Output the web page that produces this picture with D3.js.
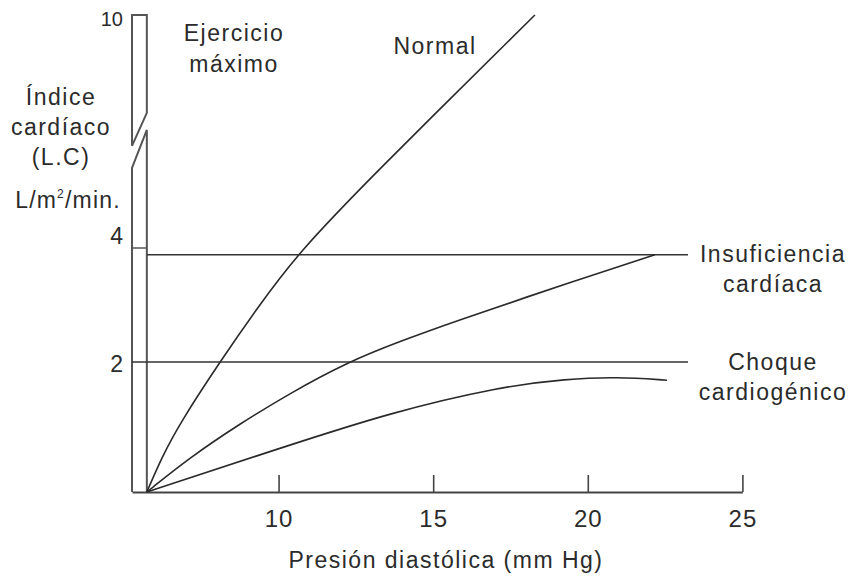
<!DOCTYPE html>
<html>
<head>
<meta charset="utf-8">
<script src="https://cdn.jsdelivr.net/npm/d3@7"></script>
<style>
  body { margin: 0; background: #fff; }
  svg text { font-family: "Liberation Sans", Arial, sans-serif; fill: #2b2b2b; }
</style>
</head>
<body>
<svg id="chart" width="850" height="577"></svg>
<script>
// datos (presion diastolica mm Hg, indice cardiaco L/m2/min)
var xTicks = [10, 15, 20, 25];
var yTicks = [2, 4, 10];

var normalX = [5.74, 6.23, 6.81, 8.10, 9.33, 10.60, 12.89, 18.29];
var normalY = [0, 0.54, 1.06, 2, 2.96, 3.89, 5.75, 10];

var insufX = [5.74, 7.13, 8.75, 10.37, 12.24, 13.92, 15.54, 19.65, 22.17];
var insufY = [0, 0.53, 1.05, 1.52, 2, 2.36, 2.68, 3.44, 3.88];

var choqueX = [5.74, 10.15, 13.60, 17.16, 19.33, 20.95, 22.56];
var choqueY = [0, 0.69, 1.22, 1.62, 1.74, 1.77, 1.72];

// lineas horizontales de referencia
var refNiveles = [3.88, 2];
var refInicio = [5.74, 5.26];
var refFin = 23.24;

var svg = d3.select("#chart");

var xScale = d3.scaleLinear().domain([5.26, 25]).range([132, 742.4]);
// eje con corte: tramo 4-10 comprimido
var yScale = d3.scaleLinear().domain([0, 2, 4, 10]).range([492, 362, 248, 15]);

var x0 = xScale.domain()[0];
var xOrigen = 5.74;
var fuente = "'Liberation Sans', Arial, sans-serif";

// eje x
var ejeX = svg.append("g")
  .attr("transform", "translate(0," + yScale(0) + ")")
  .call(d3.axisBottom(xScale)
    .tickValues(xTicks)
    .tickSizeInner(-17)
    .tickSizeOuter(0)
    .tickPadding(18));
ejeX.select(".domain").attr("stroke", "#444").attr("stroke-width", 2);
ejeX.selectAll(".tick line").attr("stroke", "#444").attr("stroke-width", 1.6);
ejeX.selectAll(".tick text")
  .attr("font-size", 24)
  .attr("fill", "#2b2b2b")
  .attr("letter-spacing", 1)
  .style("font-family", fuente);

// eje y doble con corte
var xa = xScale(x0), xb = xScale(xOrigen);
svg.append("path")
  .attr("d", "M" + xa + "," + yScale(6.63) + "V" + yScale(10) + "H" + xb + "V" + yScale(7.48) + "Z")
  .attr("fill", "none").attr("stroke", "#555").attr("stroke-width", 2);
svg.append("path")
  .attr("d", "M" + xb + "," + yScale(0) + "V" + yScale(7.04) + "L" + xa + "," + yScale(6.06) + "V" + yScale(0))
  .attr("fill", "none").attr("stroke", "#555").attr("stroke-width", 2);
svg.append("line")
  .attr("x1", xa).attr("x2", xb)
  .attr("y1", yScale(4)).attr("y2", yScale(4))
  .attr("stroke", "#555").attr("stroke-width", 1.5);

svg.selectAll(".ytick")
  .data(yTicks)
  .enter()
  .append("text")
  .attr("class", "ytick")
  .attr("x", 123)
  .attr("y", function(d) {
    if (d == 10) return yScale(d) + 11;
    if (d == 4) return yScale(d) - 4;
    return yScale(d) + 10;
  })
  .attr("text-anchor", "end")
  .attr("font-size", function(d) { return d == 10 ? 20 : 23; })
  .style("font-family", fuente)
  .text(function(d) { return d; });

// lineas de referencia
svg.selectAll(".ref")
  .data(refNiveles)
  .enter()
  .append("line")
  .attr("class", "ref")
  .attr("x1", function(d, i) { return xScale(refInicio[i]); })
  .attr("x2", xScale(refFin))
  .attr("y1", function(d) { return yScale(d); })
  .attr("y2", function(d) { return yScale(d); })
  .attr("stroke", "#333")
  .attr("stroke-width", 1.5);

// curvas
var linea = d3.line()
  .x(function(d) { return xScale(d[0]); })
  .y(function(d) { return yScale(d[1]); })
  .curve(d3.curveBasis);

var series = [[normalX, normalY], [insufX, insufY], [choqueX, choqueY]];
svg.selectAll(".curva")
  .data(series)
  .enter()
  .append("path")
  .attr("class", "curva")
  .attr("d", function(s) { return linea(d3.zip(s[0], s[1])); })
  .attr("fill", "none")
  .attr("stroke", "#2a2a2a")
  .attr("stroke-width", 1.6);

// textos
var textos = [
  ["Ejercicio", 234, 41], ["máximo", 234, 72],
  ["Normal", 435, 54],
  ["Índice", 61, 105], ["cardíaco", 61, 135], ["(L.C)", 61, 165],
  ["Insuficiencia", 773, 262], ["cardíaca", 773, 292],
  ["Choque", 773, 370], ["cardiogénico", 773, 400],
  ["Presión diastólica (mm Hg)", 446, 568]
];
svg.selectAll(".etiqueta")
  .data(textos)
  .enter()
  .append("text")
  .attr("class", "etiqueta")
  .attr("x", function(d) { return d[1]; })
  .attr("y", function(d) { return d[2]; })
  .attr("font-size", 23)
  .attr("letter-spacing", 1.5)
  .attr("text-anchor", "middle")
  .text(function(d) { return d[0]; });

var unidad = svg.append("text")
  .attr("x", 68).attr("y", 208)
  .attr("font-size", 23)
  .attr("letter-spacing", 1.2)
  .attr("text-anchor", "middle");
unidad.append("tspan").text("L/m");
unidad.append("tspan").attr("font-size", 12).attr("dy", -10).text("2");
unidad.append("tspan").attr("dy", 10).text("/min.");
</script>
</body>
</html>
